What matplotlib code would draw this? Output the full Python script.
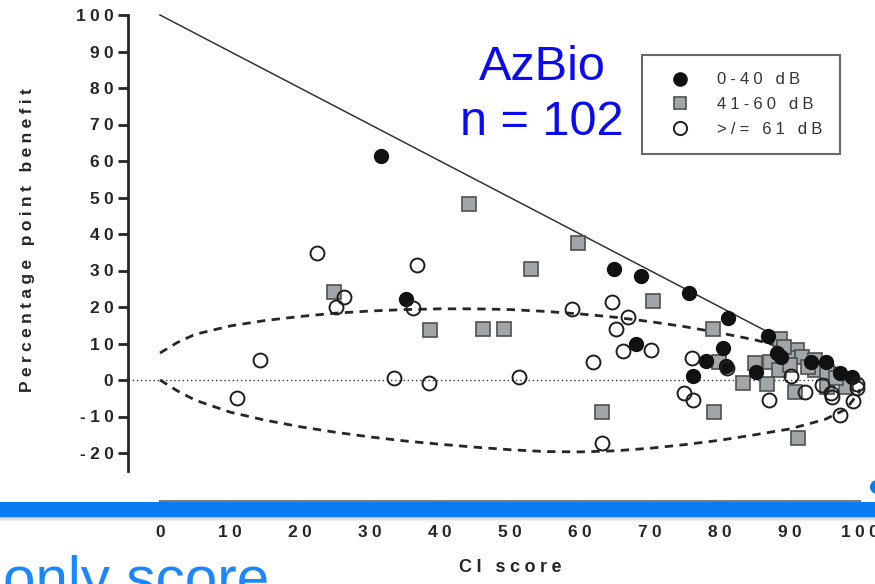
import matplotlib
matplotlib.use("Agg")
import matplotlib.pyplot as plt
from matplotlib.patches import Rectangle, Ellipse
from matplotlib.lines import Line2D

plt.rcParams["font.family"] = ["Liberation Sans", "DejaVu Sans"]

# CI-only score vs. percentage-point benefit, by hearing-threshold group
ci_0_40 = [31.6, 35.1, 64.8, 68.7, 75.6, 81.1, 68.0, 78.0, 80.4, 80.9, 76.2,
           86.9, 88.1, 88.7, 93.0, 95.1, 85.1, 97.1, 98.9]
ben_0_40 = [61.4, 22.2, 30.4, 28.5, 23.8, 17.0, 9.9, 5.2, 8.8, 3.8, 1.0,
            12.0, 7.5, 6.4, 5.0, 5.0, 2.2, 2.0, 0.9]

ci_41_60 = [44.1, 53.0, 59.7, 24.9, 38.6, 46.1, 49.1, 70.4, 79.0, 79.9, 83.3,
            63.2, 79.1, 88.6, 91.0, 89.7, 91.7, 93.6, 85.0, 87.1, 88.4, 86.7,
            93.6, 95.3, 90.7, 95.3, 98.0, 91.1, 90.0, 96.5, 89.2, 92.5]
ben_41_60 = [48.2, 30.4, 37.5, 24.1, 13.7, 14.0, 14.0, 21.7, 13.9, 5.0, -0.9,
             -8.8, -8.8, 11.2, 8.2, 5.9, 6.4, 5.5, 4.6, 5.0, 2.7, -1.1,
             2.7, 2.2, -3.3, -1.9, -1.9, -16.0, 4.0, 0.5, 9.0, 3.6]

ci_61_up = [22.4, 36.7, 26.3, 25.2, 36.1, 14.3, 33.4, 38.4, 51.3, 11.0, 58.9,
            64.6, 66.9, 65.1, 66.1, 70.1, 61.9, 76.0, 81.0, 74.9, 76.2, 63.2,
            90.2, 92.1, 99.5, 87.0, 96.0, 95.8, 99.0, 97.1, 99.6, 94.5]
ben_61_up = [34.8, 31.5, 22.7, 20.0, 19.7, 5.5, 0.5, -0.9, 0.7, -5.0, 19.5,
             21.4, 17.2, 14.1, 8.0, 8.2, 4.9, 6.0, 3.3, -3.6, -5.4, -17.3,
             1.2, -3.3, -2.2, -5.6, -4.6, -3.5, -5.8, -9.5, -1.0, -1.5]

# ceiling: maximum possible benefit for a given CI-only score
ceiling_x = [0, 100]
ceiling_y = [100, 0]

# 95% critical-difference bounds
bound_x = [0, 2.5, 5, 10, 15, 20, 25, 30, 35, 40, 45, 50, 55, 60, 65, 70,
           75, 80, 85, 90, 95, 98, 100]
bound_upper = [7.4, 10.3, 12.5, 14.8, 16.3, 17.4, 18.3, 18.9, 19.3, 19.5, 19.5,
               19.3, 18.8, 18.1, 17.2, 16.0, 14.6, 12.9, 11.0, 8.5, 5.0, 1.5, -3.0]
bound_lower = [0.0, -3.0, -5.5, -8.8, -11.0, -12.8, -14.3, -15.6, -16.7, -17.6,
               -18.4, -19.1, -19.6, -19.7, -19.4, -18.7, -17.7, -16.5, -15.0,
               -13.4, -10.8, -8.0, -3.0]

x_ticks = list(range(0, 101, 10))
y_ticks = list(range(-20, 101, 10))
legend_labels = ["0-40 dB", "41-60 dB", ">/= 61 dB"]

WIDE = "\u2004"    # three-per-em space
MEDIUM = "\u2005"  # four-per-em space


def tracked(s, sep=WIDE):
    """Widen letter spacing by putting a narrow space between glyphs."""
    return sep.join(s)


W, H = 875, 584
fig = plt.figure(figsize=(W / 100, H / 100), dpi=100)
fig.patch.set_facecolor("white")

# axes box in pixels: left 128, right 875, top 10, bottom 501
ax = fig.add_axes([128 / W, (H - 501) / H, 747 / W, 491 / H])
px_per_x = 7.0
px_per_y = 3.65
ax.set_xlim((128 - 160) / px_per_x, (875 - 160) / px_per_x)
ax.set_ylim((380 - 501) / px_per_y, (380 - 10) / px_per_y)

ink = "#262626"
for side in ("top", "right"):
    ax.spines[side].set_visible(False)
ax.spines["left"].set_bounds(-25, 100)
ax.spines["left"].set_linewidth(2.0)
ax.spines["left"].set_color(ink)
ax.spines["bottom"].set_bounds(0, 100)
ax.spines["bottom"].set_linewidth(1.4)
ax.spines["bottom"].set_color("#7a7a7a")

ax.set_yticks(y_ticks, labels=[tracked(str(t), MEDIUM) for t in y_ticks])
ax.set_xticks(x_ticks, labels=[tracked(str(t), MEDIUM) for t in x_ticks])
ax.tick_params(axis="y", direction="out", length=7, width=2.0, pad=3.5,
               colors=ink, labelsize=12.5)
ax.tick_params(axis="x", direction="out", length=7, width=1.4, pad=10,
               colors=ink, labelsize=12.5)
for lab in ax.get_xticklabels() + ax.get_yticklabels():
    lab.set_fontweight("bold")

ax.set_ylabel(tracked("Percentage point benefit", MEDIUM), fontsize=12.5,
              fontweight="bold", color=ink, va="center")
ax.yaxis.set_label_coords((28 - 128) / 747, (501 - 240) / 491)
ax.set_xlabel(tracked("CI score", MEDIUM), fontsize=13, fontweight="bold",
              color=ink, va="center")
ax.xaxis.set_label_coords((510 - 128) / 747, (501 - 567) / 491)

# reference lines
ax.plot(ceiling_x, ceiling_y, color="#333333", lw=1.1, zorder=2)
ax.plot([ax.get_xlim()[0], 100], [0, 0], color="#333333", lw=1.0,
        ls=(0, (1, 2)), zorder=2)
ax.plot(bound_x, bound_upper, color="#262626", lw=2.0, ls=(0, (3, 2.3)),
        zorder=2)
ax.plot(bound_x, bound_lower, color="#262626", lw=2.0, ls=(0, (3, 2.3)),
        zorder=2)

# data
ax.plot(ci_41_60, ben_41_60, ls="none", marker="s", ms=9.5,
        mfc="#a3a6a8", mec="#505050", mew=1.2, zorder=3)
ax.plot(ci_0_40, ben_0_40, ls="none", marker="o", ms=10,
        mfc="#111111", mec="#111111", mew=1.0, zorder=4)
ax.plot(ci_61_up, ben_61_up, ls="none", marker="o", ms=10,
        mfc="none", mec="#1e1e1e", mew=1.4, zorder=5)

handles = [
    Line2D([], [], ls="none", marker="o", ms=9.5, mfc="#111111", mec="#111111"),
    Line2D([], [], ls="none", marker="s", ms=9, mfc="#a3a6a8", mec="#505050",
           mew=1.2),
    Line2D([], [], ls="none", marker="o", ms=9.5, mfc="none", mec="#1e1e1e",
           mew=1.4),
]
leg = ax.legend(handles, [tracked(s, MEDIUM) for s in legend_labels],
                loc="upper left", bbox_to_anchor=(642 / W, 1 - 55 / H),
                bbox_transform=fig.transFigure, frameon=True, fancybox=False,
                fontsize=12, borderpad=1.05, handlelength=2.45,
                handletextpad=1.0, labelspacing=0.58, borderaxespad=0)
leg.get_frame().set_edgecolor("#444444")
leg.get_frame().set_linewidth(1.5)
for t in leg.get_texts():
    t.set_color("#333333")

# annotation
fig.text(542 / W, 1 - 80 / H, "AzBio", ha="center", va="baseline",
         fontsize=35, color="#0b0bf2")
fig.text(542 / W, 1 - 135 / H, "n = 102", ha="center", va="baseline",
         fontsize=35, color="#0b0bf2")

# slide divider bar with soft shadow
blue = "#0a7cf2"
for i, a in enumerate([0.35, 0.25, 0.16, 0.09, 0.04]):
    fig.patches.append(Rectangle((0, (H - 517 - i - 1) / H), 1, 1 / H,
                                 transform=fig.transFigure,
                                 color="#555555", alpha=a, lw=0, zorder=9))
fig.patches.append(Rectangle((0, (H - 517) / H), 1, 15 / H,
                             transform=fig.transFigure, color=blue, lw=0,
                             zorder=10))
fig.patches.append(Ellipse((877 / W, 1 - 487 / H), 14 / W, 14 / H,
                           transform=fig.transFigure, color=blue, lw=0,
                           zorder=10))

fig.text(3 / W, 1 - 597 / H, "only score", ha="left", va="baseline",
         fontsize=42, color="#1a86ff")

fig.savefig("out.png", dpi=100)
